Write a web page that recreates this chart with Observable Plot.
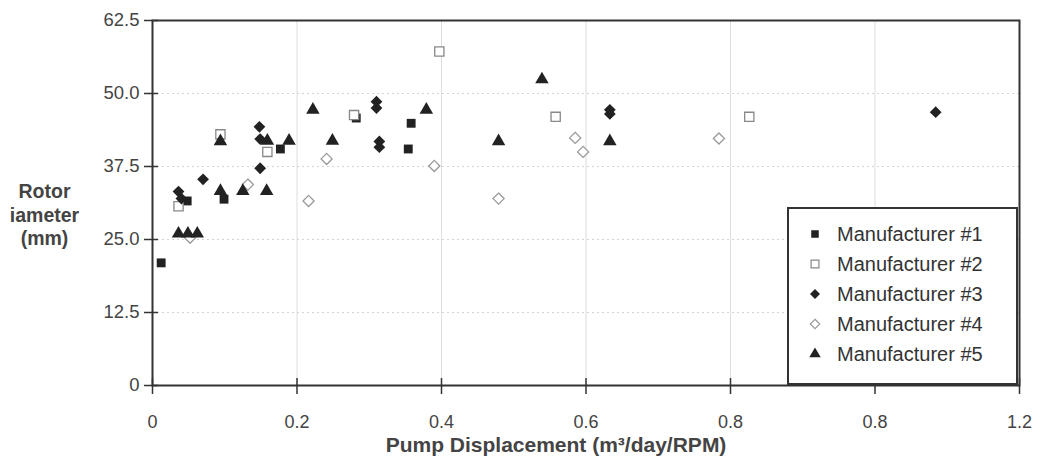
<!DOCTYPE html>
<html><head><meta charset="utf-8">
<script src="https://cdn.jsdelivr.net/npm/d3@7"></script>
<script src="https://cdn.jsdelivr.net/npm/@observablehq/plot@0.6"></script>
<style>
body{margin:0;background:#fff;}
#wrap{position:relative;width:1037px;height:466px;font-family:"Liberation Sans",Arial,sans-serif;}
#legend{position:absolute;left:787px;top:207px;width:227px;height:174px;border:2px solid #333;background:#fff;}
.row{position:absolute;left:0;height:30px;display:flex;align-items:center;font-size:20px;color:#333;}
.row svg{margin-left:19px;margin-right:15px;}
</style></head><body><div id="wrap"></div>
<script>
const seriesNames = ["Manufacturer #1","Manufacturer #2","Manufacturer #3","Manufacturer #4","Manufacturer #5"];
const m1x = [0.012, 0.048, 0.099, 0.177, 0.282, 0.354, 0.358];
const m1y = [21.0, 31.6, 31.9, 40.5, 45.8, 40.5, 44.9];
const m2x = [0.036, 0.094, 0.159, 0.279, 0.397, 0.558, 0.826];
const m2y = [30.7, 43.0, 40.0, 46.3, 57.2, 46.0, 46.0];
const m3x = [0.036, 0.040, 0.070, 0.148, 0.149, 0.149, 0.310, 0.310, 0.314, 0.314, 0.633, 0.633, 1.084];
const m3y = [33.2, 32.0, 35.3, 44.3, 42.2, 37.2, 48.6, 47.5, 41.8, 40.8, 47.2, 46.5, 46.8];
const m4x = [0.052, 0.132, 0.216, 0.241, 0.390, 0.479, 0.585, 0.596, 0.784];
const m4y = [25.3, 34.4, 31.6, 38.8, 37.6, 32.0, 42.4, 40.0, 42.3];
const m5x = [0.036, 0.049, 0.062, 0.094, 0.094, 0.125, 0.159, 0.158, 0.189, 0.222, 0.249, 0.379, 0.479, 0.539, 0.633];
const m5y = [26.0, 26.0, 26.0, 41.8, 33.3, 33.3, 41.9, 33.3, 41.9, 47.2, 41.9, 47.2, 41.8, 52.4, 41.8];

const xTicks = [0, 0.2, 0.4, 0.6, 0.8, 1.0, 1.2];
const xTickLabels = ["0", "0.2", "0.4", "0.6", "0.8", "0.8", "1.2"];
const yTicks = [0, 12.5, 25, 37.5, 50, 62.5];
const yTickLabels = ["0", "12.5", "25.0", "37.5", "50.0", "62.5"];
const xGrid = [0.2, 0.4, 0.6, 0.8, 1.0];
const yGrid = [12.5, 25, 37.5, 50];
const xTitle = "Pump Displacement (m³/day/RPM)";
const yTitle = "Rotor\niameter\n(mm)";

const zip = (xs, ys) => xs.map((x, i) => ({x, y: ys[i]}));
const styles = [
  {symbol: "square", fill: "#222", stroke: "none", r: 5.0},
  {symbol: "square", fill: "#fff", stroke: "#888", r: 5.2},
  {symbol: "diamond2", fill: "#222", stroke: "none", r: 5.3},
  {symbol: "diamond2", fill: "#fff", stroke: "#999", r: 5.0},
  {symbol: "triangle", fill: "#222", stroke: "none", r: 5.0}
];
const data = [zip(m1x, m1y), zip(m2x, m2y), zip(m3x, m3y), zip(m4x, m4y), zip(m5x, m5y)];

const chart = Plot.plot({
  width: 1037, height: 466,
  marginLeft: 152, marginRight: 18, marginTop: 20, marginBottom: 81,
  style: {fontFamily: '"Liberation Sans", Arial, sans-serif', background: "#fff"},
  x: {domain: [0, 1.2]},
  y: {domain: [0, 62.5]},
  marks: [
    Plot.ruleX(xGrid, {stroke: "#dddddd", strokeWidth: 1}),
    Plot.ruleY(yGrid, {stroke: "#d4d4d4", strokeWidth: 1, strokeDasharray: "2,3"}),
    ...data.map((d, i) => Plot.dot(d, {x: "x", y: "y", symbol: () => styles[i].symbol, fill: styles[i].fill, stroke: styles[i].stroke, strokeWidth: 1.3, r: styles[i].r})),
    Plot.frame({stroke: "#333", strokeWidth: 2}),
    Plot.axisX(xTicks, {tickSize: 9, tickPadding: 21, tickFormat: (d, i) => xTickLabels[i], fontSize: 18, color: "#444", stroke: "#333", strokeWidth: 1.5, label: null}),
    Plot.axisX(xTicks, {tickSize: -7, tickFormat: () => "", stroke: "#333", strokeWidth: 1.5, label: null}),
    Plot.axisY(yTicks, {tickSize: 8, tickPadding: 5, tickFormat: (d, i) => yTickLabels[i], fontSize: 18.5, color: "#444", stroke: "#333", strokeWidth: 1.5, label: null}),
    Plot.axisY(yTicks, {tickSize: -6, tickFormat: () => "", stroke: "#333", strokeWidth: 1.5, label: null}),
    Plot.text([xTitle], {frameAnchor: "bottom", dx: -30, dy: 66, fontSize: 21, fontWeight: "bold", fill: "#444"}),
    Plot.text([yTitle], {frameAnchor: "left", textAnchor: "middle", dx: -108, dy: 11, fontSize: 19.5, fontWeight: "bold", fill: "#444", lineHeight: 1.2})
  ]
});
const wrap = document.getElementById("wrap");
wrap.appendChild(chart);

const legend = document.createElement("div");
legend.id = "legend";
seriesNames.forEach((name, i) => {
  const row = document.createElement("div");
  row.className = "row";
  row.style.top = (10 + i * 30) + "px";
  const s = styles[i];
  const sym = {square: d3.symbolSquare, diamond: d3.symbolDiamond, diamond2: d3.symbolDiamond2, triangle: d3.symbolTriangle}[s.symbol];
  const path = d3.symbol(sym, Math.PI * (s.r * 0.85) ** 2)();
  row.innerHTML = `<svg width="14" height="14" viewBox="-7 -7 14 14"><path d="${path}" fill="${s.fill}" stroke="${s.stroke}" stroke-width="1.2"/></svg><span>${name}</span>`;
  legend.appendChild(row);
});
wrap.appendChild(legend);
</script>
</body></html>
